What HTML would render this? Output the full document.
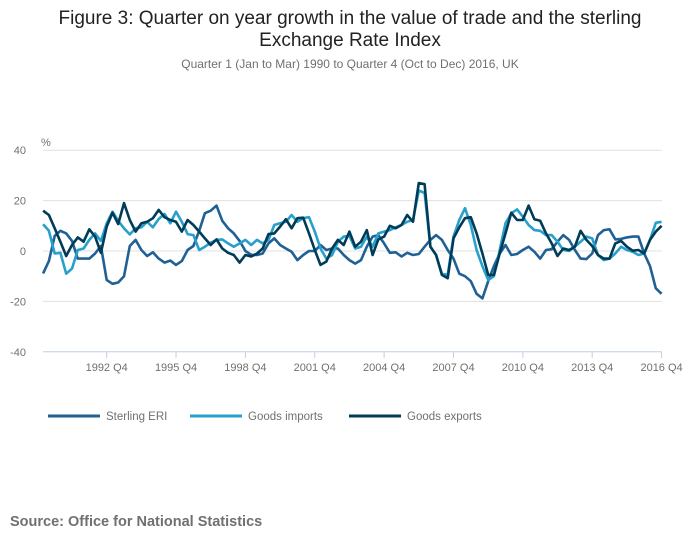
<!DOCTYPE html>
<html><head><meta charset="utf-8"><style>
body{margin:0;background:#fff;font-family:"Liberation Sans",sans-serif;}
svg text{font-family:"Liberation Sans",sans-serif;}
</style></head><body>
<svg id="chart" width="700" height="549" xmlns="http://www.w3.org/2000/svg">
<text x="350" y="24" text-anchor="middle" font-size="19" fill="#222">Figure 3: Quarter on year growth in the value of trade and the sterling</text>
<text x="350" y="46" text-anchor="middle" font-size="19" fill="#222">Exchange Rate Index</text>
<text x="350" y="68" text-anchor="middle" font-size="12" fill="#707070">Quarter 1 (Jan to Mar) 1990 to Quarter 4 (Oct to Dec) 2016, UK</text>
<text x="41" y="146" font-size="11" fill="#707070">%</text>
<g id="grid"></g><g id="xaxis"></g><g id="series"></g>
<g>
<line x1="48" y1="416" x2="100" y2="416" stroke="#206095" stroke-width="3"/><text x="106" y="420" font-size="11.5" fill="#707070">Sterling ERI</text>
<line x1="190" y1="416" x2="242" y2="416" stroke="#27a0cc" stroke-width="3"/><text x="248" y="420" font-size="11.5" fill="#707070">Goods imports</text>
<line x1="349" y1="416" x2="401" y2="416" stroke="#003c57" stroke-width="3"/><text x="407" y="420" font-size="11.5" fill="#707070">Goods exports</text>
</g>
<text x="10" y="526" font-size="14.5" font-weight="bold" fill="#707070">Source: Office for National Statistics</text>
</svg>
<script>
const yTicks=[40,20,0,-20,-40];
const xTickLabels=["1992 Q4","1995 Q4","1998 Q4","2001 Q4","2004 Q4","2007 Q4","2010 Q4","2013 Q4","2016 Q4"];
const xTickIndex=[11,23,35,47,59,71,83,95,107];
const eri=[-8.9,-4,6,8,7,4,-3,-3,-3,-1,2,-11.5,-13,-12.5,-10,2,4.4,0.4,-2,-0.5,-3,-4.6,-3.8,-5.5,-4,0.4,2,8,15,16,18,12,9,7,4,0,
-1.5,-1.6,-1,3,5,2.4,1,-0.3,-3.6,-1.6,0,0,2.4,0.4,1,1,-1.6,-3.6,-5,-3.6,1.7,5.7,6.3,3,-0.7,-0.5,-2.2,-0.7,-1.6,-1.2,1.7,4.4,6.3,4.4,0.4,-3,-9,
-10,-12,-17,-18.8,-12,-6,-1,2.4,-1.6,-1.2,0.4,1.7,-0.3,-3,0.4,0.7,3.7,6.3,4.4,0.4,-3,-3.2,-1,6.3,8.3,8.6,4.6,4.8,5.4,5.7,5.7,-1,-6,-14.8,-17];
const imports=[10.6,8,-1,-0.7,-9,-7,0.4,1,4.4,7,4,11,15.6,12,9,6.6,9,9.4,11.6,9.4,12.7,14.7,11,15.6,11.6,6.7,6.3,0.4,1.7,3.3,4.4,4.6,3,1.7,3,4.4,
2.4,4.4,3,4.4,10.3,11,11.6,14.3,11.6,13,13.4,7.7,1,-3,-1.6,3.7,5.7,6,1,1.7,5.7,1.7,7,7.7,8.3,9.4,10.3,11.6,12.3,24,23,1.7,-1.6,-9,-9.5,5.7,12.3,
17,10.3,0.4,-6,-11.5,-10,0.4,11,15,16.5,13.6,10.3,8.3,8,6.3,6.3,3.7,0.4,0,1.7,3.7,5.7,5,-1.6,-3.6,-3,-1,1.7,0.4,-0.3,-1.6,-1,4.4,11.2,11.6];
const exportsS=[16,14.3,9,3.7,-2,2.4,5.4,3.7,8.6,5.7,-0.7,9.7,15.2,10.7,19,12.3,7.7,11,11.6,13,16.3,13.4,12.3,11.6,7.7,12.3,10.3,7.7,5,2.4,4.6,1,-0.7,-1.6,-4.6,-1.6,
-2.2,-1,1,6.7,7,9.7,12.6,9,13,13.2,7,0.4,-5.5,-4.2,1,4.4,2.4,7.7,1.7,3.7,8.3,-1.6,4.6,5.7,10,9,10.3,14.3,11.6,27,26.5,1.7,-1.6,-9.5,-10.8,5,9.4,
13,13.4,7,-1,-9.5,-9.5,-1,7,15.2,12.3,12.3,18,12.6,12,7,3,-2,1,0.4,1.7,8,4.4,2,-1.6,-3,-3,3,4,1.7,0.1,0.4,-1,4.4,7.7,10];
const NS="http://www.w3.org/2000/svg";
const x=i=>43.1+i*5.78;
const y=v=>251-v*2.52;
const grid=document.getElementById('grid');
yTicks.forEach(t=>{
  const l=document.createElementNS(NS,'line');
  l.setAttribute('x1',43);l.setAttribute('x2',662);l.setAttribute('y1',y(t));l.setAttribute('y2',y(t));
  l.setAttribute('stroke',t===-40?'#bfd0e6':'#e0e0e0');l.setAttribute('stroke-width',1);
  
  
  grid.appendChild(l);
  const tx=document.createElementNS(NS,'text');
  tx.setAttribute('x',26);tx.setAttribute('y',y(t)+4);tx.setAttribute('text-anchor','end');
  tx.setAttribute('font-size','11');tx.setAttribute('fill','#707070');tx.textContent=t;
  
  
  grid.appendChild(tx);
});
const xa=document.getElementById('xaxis');
xTickIndex.forEach((qi,k)=>{
  const l=document.createElementNS(NS,'line');
  l.setAttribute('x1',x(qi));l.setAttribute('x2',x(qi));l.setAttribute('y1',352);l.setAttribute('y2',358);
  l.setAttribute('stroke','#bfd0e6');
  
  
  xa.appendChild(l);
  const tx=document.createElementNS(NS,'text');
  tx.setAttribute('x',x(qi));tx.setAttribute('y',371);tx.setAttribute('text-anchor','middle');
  tx.setAttribute('font-size','11');tx.setAttribute('fill','#707070');tx.textContent=xTickLabels[k];
  
  
  xa.appendChild(tx);
});
const sg=document.getElementById('series');
[[eri,'#206095','sterling-eri-line'],[imports,'#27a0cc','goods-imports-line'],[exportsS,'#003c57','goods-exports-line']].forEach(([d,c,n])=>{
  const p=document.createElementNS(NS,'polyline');
  p.setAttribute('points',d.map((v,i)=>x(i).toFixed(1)+','+y(v).toFixed(1)).join(' '));
  p.setAttribute('fill','none');p.setAttribute('stroke',c);p.setAttribute('stroke-width','2.6');p.setAttribute('stroke-linejoin','round');
  
  
  sg.appendChild(p);
});
</script>
</body></html>
